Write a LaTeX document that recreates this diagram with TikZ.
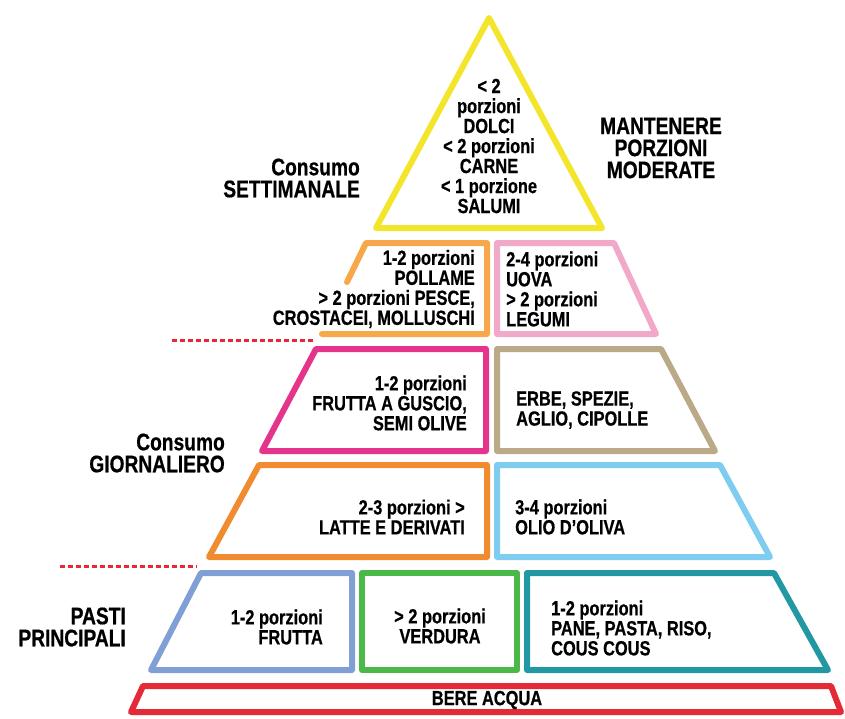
\documentclass[tikz,border=0pt]{standalone}
\usepackage{fontspec}
\newfontfamily\cf{Liberation Sans}[FakeStretch=0.8, BoldFeatures={FakeBold=0.6}]
\definecolor{cyellow}{HTML}{F3E52B}
\definecolor{clorange}{HTML}{F6A84B}
\definecolor{cpink}{HTML}{F2A9C9}
\definecolor{cmagenta}{HTML}{E5348B}
\definecolor{ctan}{HTML}{BBAA88}
\definecolor{corange}{HTML}{F08B30}
\definecolor{clblue}{HTML}{7ECDF0}
\definecolor{cblue}{HTML}{7F9FD5}
\definecolor{cgreen}{HTML}{4BB947}
\definecolor{cteal}{HTML}{2299A2}
\definecolor{cred}{HTML}{E42A36}
\tikzset{
  block/.style={line width=6pt, line join=round, line cap=round},
  body/.style={inner sep=0pt, font=\cf\bfseries\fontsize{20.5}{20}\selectfont, text=black},
  side/.style={inner sep=0pt, font=\cf\bfseries\fontsize{24}{22}\selectfont, text=black},
  sep/.style={cred, line width=3pt, dash pattern=on 5pt off 3pt}
}
\begin{document}
\begin{tikzpicture}[x=1pt,y=-1pt]
\useasboundingbox (0,0) rectangle (845,718);
% shapes
\draw[block, cyellow] (489,18) -- (602,228) -- (376,228) -- cycle;
\draw[block, clorange] (347,282) -- (366,243) -- (487,243) -- (487,334) -- (322,334);
\draw[block, cpink] (497,243) -- (614,243) -- (656,334) -- (497,334) -- cycle;
\draw[block, cmagenta] (316,349) -- (486,349) -- (486,451) -- (262,451) -- cycle;
\draw[block, ctan] (497,349) -- (661,349) -- (715,451) -- (497,451) -- cycle;
\draw[block, corange] (259,465) -- (487,465) -- (487,557) -- (209,557) -- cycle;
\draw[block, clblue] (497,465) -- (720,465) -- (770,557) -- (497,557) -- cycle;
\draw[block, cblue] (201,573) -- (352,573) -- (352,670) -- (151,670) -- cycle;
\draw[block, cgreen] (362,573) -- (517,573) -- (517,670) -- (362,670) -- cycle;
\draw[block, cteal] (527,573) -- (774,573) -- (828,670) -- (527,670) -- cycle;
\draw[block, cred] (143,686) -- (831,686) -- (841,712) -- (131,712) -- cycle;
% separators
\coordinate (s1a) at (172,340); \coordinate (s1b) at (313,340);
\coordinate (s2a) at (60,566); \coordinate (s2b) at (197,566);
\draw[sep] (s1a) -- (s1b);
\draw[sep] (s2a) -- (s2b);
% texts
\node[body, align=center] (top) at (489,146) {< 2\\porzioni\\DOLCI\\< 2 porzioni\\CARNE\\< 1 porzione\\SALUMI};
\node[body, align=right, anchor=east] (pollame) at (475,289) {1-2 porzioni\\POLLAME\\> 2 porzioni PESCE,\\CROSTACEI, MOLLUSCHI};
\node[body, align=left, anchor=west] (uova) at (506,289) {2-4 porzioni\\UOVA\\> 2 porzioni\\LEGUMI};
\node[body, align=right, anchor=east] (guscio) at (467,403) {1-2 porzioni\\FRUTTA A GUSCIO,\\SEMI OLIVE};
\node[body, align=left, anchor=west] (erbe) at (516,410) {ERBE, SPEZIE,\\AGLIO, CIPOLLE};
\node[body, align=right, anchor=east] (latte) at (465,517) {2-3 porzioni >\\LATTE E DERIVATI};
\node[body, align=left, anchor=west] (olio) at (515,517) {3-4 porzioni\\OLIO D’OLIVA};
\node[body, align=right, anchor=east] (frutta) at (323,627) {1-2 porzioni\\FRUTTA};
\node[body, align=center] (verdura) at (440,626) {> 2 porzioni\\VERDURA};
\node[body, align=left, anchor=west] (pane) at (551,628) {1-2 porzioni\\PANE, PASTA, RISO,\\COUS COUS};
\node[body] (acqua) at (487,700) {BERE ACQUA};
\node[side, align=right, anchor=east] (sett) at (360,178) {Consumo\\SETTIMANALE};
\node[side, align=center] (mant) at (661,148) {MANTENERE\\PORZIONI\\MODERATE};
\node[side, align=right, anchor=east] (giorn) at (225,453) {Consumo\\GIORNALIERO};
\node[side, align=right, anchor=east] (pasti) at (126,627) {PASTI\\PRINCIPALI};
\end{tikzpicture}
\end{document}
